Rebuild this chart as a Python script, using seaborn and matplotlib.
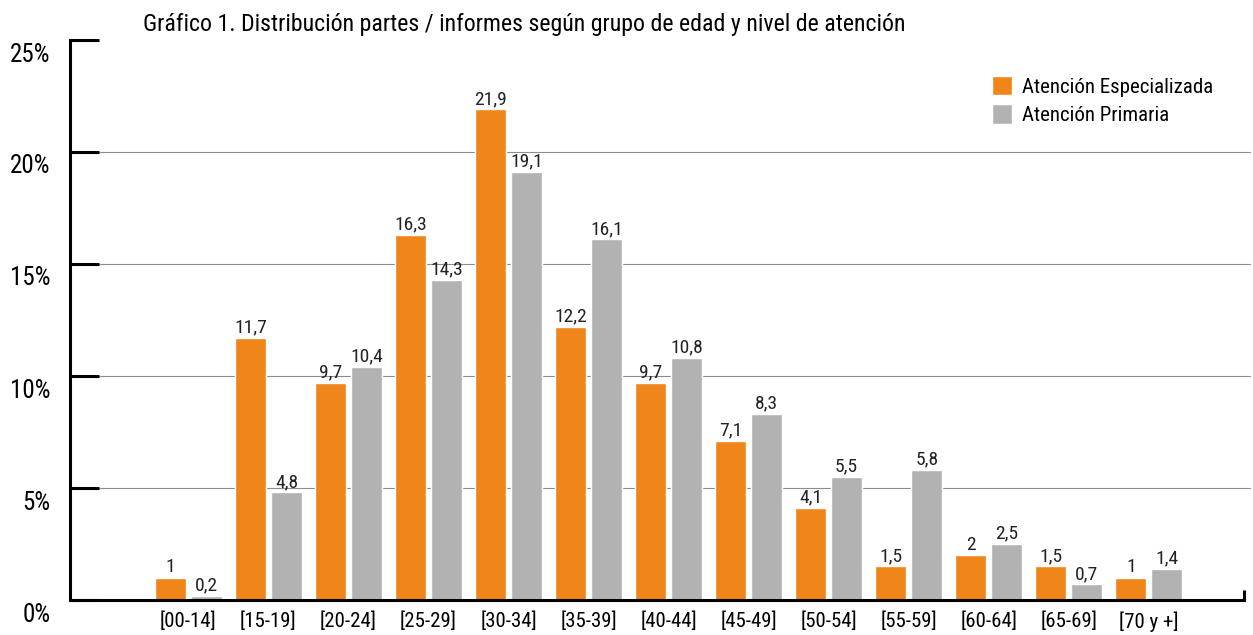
import pandas as pd
import matplotlib
matplotlib.use("Agg")
import matplotlib.pyplot as plt
import matplotlib.transforms as mtransforms
import seaborn as sns

# Data
grupos = ['[00-14]', '[15-19]', '[20-24]', '[25-29]', '[30-34]', '[35-39]', '[40-44]',
          '[45-49]', '[50-54]', '[55-59]', '[60-64]', '[65-69]', '[70 y +]']
especializada = [1, 11.7, 9.7, 16.3, 21.9, 12.2, 9.7, 7.1, 4.1, 1.5, 2, 1.5, 1]
primaria = [0.2, 4.8, 10.4, 14.3, 19.1, 16.1, 10.8, 8.3, 5.5, 5.8, 2.5, 0.7, 1.4]
niveles = ['Atención Especializada', 'Atención Primaria']
yticks = [0, 5, 10, 15, 20, 25]

df = pd.DataFrame({
    'grupo': grupos * 2,
    'nivel': [niveles[0]] * len(grupos) + [niveles[1]] * len(grupos),
    'valor': especializada + primaria,
})

sns.set_style("white")
plt.rcParams['font.family'] = ['Roboto Condensed', 'DejaVu Sans']
plt.rcParams['text.color'] = 'black'
plt.rcParams['xtick.color'] = 'black'
plt.rcParams['ytick.color'] = 'black'

fig = plt.figure(figsize=(12.53, 6.35), dpi=100)
ax = fig.add_axes([70 / 1253, 35 / 635, 1174 / 1253, 560 / 635])

sns.barplot(data=df, x='grupo', y='valor', hue='nivel', order=grupos, hue_order=niveles,
            palette=['#F08519', '#B2B2B3'], width=0.9, gap=0.13, saturation=1,
            ax=ax, legend=True)

# value labels
for cont in ax.containers:
    ax.bar_label(cont, fmt=lambda v: f"{v:g}".replace('.', ','), padding=1,
                 fontsize=14, color='#222222')

ax.set_xlim(-1.48, 13.19)
ax.set_ylim(0, 25)
ax.set_xlabel('')
ax.set_ylabel('')

# gridlines start after the inward ticks
for y in yticks[1:-1]:
    ax.axhline(y, xmin=0.025, xmax=1.005, color='#8c8c8c', lw=0.8, zorder=0, clip_on=False)

ax.set_yticks(yticks)
ax.set_yticklabels([f"{t}%" for t in yticks], fontsize=18)
ax.tick_params(axis='y', left=True, direction='in', length=21, width=2.2, pad=14)
ax.tick_params(axis='x', bottom=False, length=0, pad=8, labelsize=15)
offset = mtransforms.ScaledTranslation(0, -0.12, fig.dpi_scale_trans)
for lab in ax.get_yticklabels():
    lab.set_transform(lab.get_transform() + offset)

for s in ['top', 'right']:
    ax.spines[s].set_visible(False)
for s in ['left', 'bottom']:
    ax.spines[s].set_linewidth(2.2)
    ax.spines[s].set_color('black')
ax.plot([1, 1], [0, 0.018], transform=ax.transAxes, color='black', lw=2.2,
        clip_on=False, solid_capstyle='butt')

leg = ax.legend(loc='upper left', bbox_to_anchor=(992 / 1253, 1 - 76 / 635),
                bbox_transform=fig.transFigure, frameon=False, fontsize=15,
                borderpad=0, borderaxespad=0,
                handlelength=0.95, handleheight=1.05, handletextpad=0.48, labelspacing=0.37)

fig.text(143 / 1253, 1 - 25 / 635, 'Gráfico 1. Distribución partes / informes según grupo de edad y nivel de atención',
         fontsize=17.2, va='center', ha='left')

fig.savefig('out.png', dpi=100)
